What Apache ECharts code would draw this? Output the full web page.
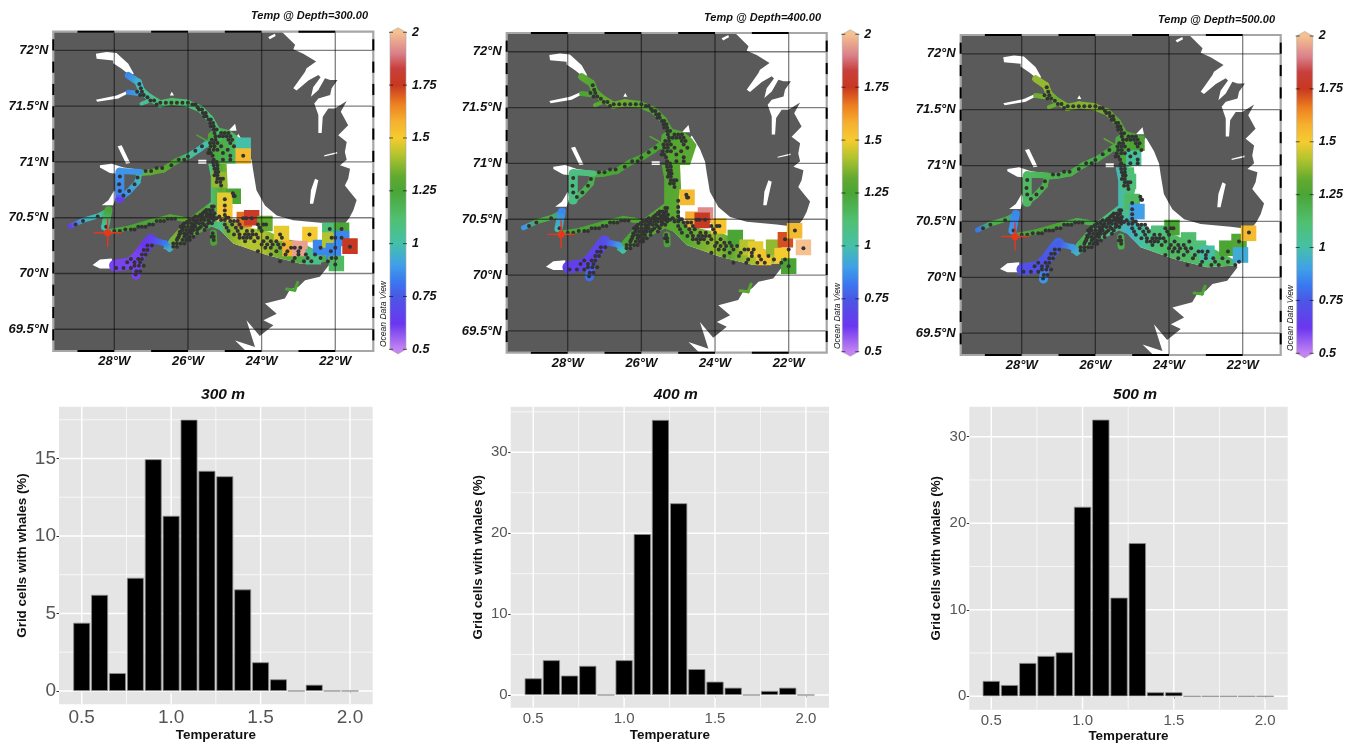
<!DOCTYPE html>
<html><head><meta charset="utf-8">
<script src="https://cdn.jsdelivr.net/npm/echarts@6/dist/echarts.min.js"></script>
<style>html,body{margin:0;padding:0;background:#fff}#c{width:1351px;height:744px}</style>
</head><body><div id="c"></div>
<script>
// ---------- histogram data ----------
const binCentres = [0.5,0.6,0.7,0.8,0.9,1.0,1.1,1.2,1.3,1.4,1.5,1.6,1.7,1.8,1.9,2.0];
const hist300 = [4.4,6.2,1.15,7.3,14.95,11.3,17.5,14.2,13.85,6.55,1.85,0.75,0,0.4,0,0];
const hist400 = [2.06,4.3,2.4,3.6,0,4.3,19.9,34.0,23.7,3.2,1.65,0.9,0,0.5,0.9,0];
const hist500 = [1.77,1.3,3.85,4.66,5.08,21.9,31.97,11.4,17.7,0.46,0.46,0,0,0,0,0];
const tempTicks = [0.5,1.0,1.5,2.0];
const tempMinor = [0.75,1.25,1.75];
const pctTicks300 = [0,5,10,15], pctMinor300 = [2.5,7.5,12.5,17.5];
const pctTicks400 = [0,10,20,30], pctMinor400 = [5,15,25,35];
const pctTicks500 = [0,10,20,30], pctMinor500 = [5,15,25];

// ---------- map axes ----------
const lonTicks = [-28,-26,-24,-22];
const latTicks = [69.5,70,70.5,71,71.5,72];
const topFrameSpans = [[-29,-28],[-27,-26],[-25,-24],[-23,-22]];
const sideFrameLats = [69.4,69.6,69.8,70,70.2,70.4,70.6,70.8,71,71.2,71.4,71.6,71.8,72];
const colourTicks = [0.5,0.75,1,1.25,1.5,1.75,2];
const tempStops = [[0.5,'#c384f2'],[0.62,'#6b36f0'],[0.75,'#4a58e4'],[0.82,'#3a78f0'],[0.9,'#3fa0e8'],[1.0,'#45c0a8'],[1.12,'#50c070'],[1.25,'#4aa535'],[1.32,'#62aa30'],[1.42,'#b4c42e'],[1.5,'#f5cc30'],[1.58,'#f5b030'],[1.66,'#ee8020'],[1.75,'#c83820'],[1.83,'#c8403c'],[1.9,'#d9808a'],[2.0,'#f5c191']];

// ---------- coast: open water outline (lon, lat) ----------
const seaOutline = [[-23.46,72.17],[-23.09,72.05],[-23.14,72.01],[-22.87,71.97],[-22.52,71.90],[-22.78,71.84],[-22.82,71.81],[-23.14,71.66],[-23.05,71.64],[-22.73,71.73],[-22.46,71.78],[-22.40,71.76],[-22.60,71.67],[-22.66,71.585],[-22.46,71.645],[-22.28,71.75],[-22.14,71.735],[-21.94,71.735],[-22.10,71.66],[-22.14,71.60],[-22.46,71.57],[-22.57,71.525],[-22.46,71.42],[-22.46,71.26],[-22.37,71.26],[-22.34,71.406],[-22.19,71.48],[-22.01,71.48],[-21.69,71.546],[-21.85,71.45],[-21.65,71.33],[-21.92,71.24],[-21.69,71.18],[-21.74,71.09],[-21.69,71.02],[-21.87,70.97],[-21.6,70.94],[-21.65,70.85],[-21.74,70.79],[-21.56,70.716],[-21.42,70.66],[-21.51,70.567],[-21.62,70.498],[-21.78,70.43],[-22.33,70.453],[-23.14,70.477],[-23.59,70.52],[-23.91,70.61],[-24.14,70.746],[-24.23,70.925],[-24.27,71.015],[-24.41,71.13],[-24.63,71.25],[-24.77,71.19],[-25.13,71.04],[-25.13,70.87],[-25.22,70.6],[-25.31,70.54],[-25.13,70.39],[-24.77,70.27],[-23.86,70.165],[-22.96,70.09],[-22.19,70.105],[-22.14,70.09],[-22.28,70.03],[-22.42,69.97],[-22.82,69.94],[-23.0,69.88],[-23.23,69.856],[-23.37,69.776],[-23.91,69.73],[-23.59,69.64],[-23.95,69.58],[-23.68,69.537],[-24.05,69.44],[-24.41,69.58],[-24.18,69.34],[-24.72,69.40],[-24.41,69.30],[-20.96,69.30],[-20.96,72.17]];
const inletA = [[-28.50,71.97],[-28.21,71.985],[-27.94,71.976],[-27.62,71.88],[-27.47,71.79],[-27.57,71.775],[-27.80,71.835],[-28.03,71.886],[-28.03,71.91],[-28.48,71.925]];
const inletB = [[-28.50,71.558],[-27.94,71.596],[-27.67,71.635],[-27.62,71.617],[-27.89,71.57],[-28.46,71.54]];
const inletC = [[-27.91,71.14],[-27.8,71.149],[-27.57,70.99],[-27.68,70.985]];
const inletD = [[-26.49,71.596],[-26.44,71.63],[-26.38,71.596]];
const inletE = [[-24.9,71.28],[-24.72,71.343],[-24.68,71.28]];
const inletF = [[-28.39,70.97],[-28.07,70.985],[-27.75,70.95],[-27.30,70.93],[-27.30,70.896],[-27.98,70.896],[-28.12,70.90],[-28.39,70.95]];
const inletG = [[-28.0,70.746],[-27.94,70.70],[-28.03,70.612],[-28.34,70.612],[-28.16,70.657]];
const inletH = [[-28.59,70.075],[-28.39,70.125],[-28.07,70.134],[-28.03,70.045],[-28.39,70.045]];
const inletI = [[-22.6,70.626],[-22.46,70.835],[-22.55,70.85],[-22.66,70.746],[-22.69,70.626]];
const inletJ = [[-25.72,71.02],[-25.5,71.02],[-25.5,70.985],[-25.72,70.985]];
const inletK = [[-23.82,72.12],[-23.64,72.15],[-23.62,72.13],[-23.78,72.10]];
const inletL = [[-22.3,71.06],[-21.95,71.09],[-21.95,71.075],[-22.3,71.05]];

// ---------- fjord centre lines ----------
const chNorth = [[-27.62,71.776],[-27.35,71.716],[-27.26,71.641],[-27.08,71.587],[-26.76,71.522],[-26.44,71.543],[-26.04,71.528],[-25.67,71.477],[-25.40,71.388],[-25.22,71.283],[-25.13,71.223]];
const chNorthBranch = [[-27.62,71.626],[-27.26,71.611]];
const chNorthTail = [[-27.26,71.522],[-27.03,71.552]];
const chMiddle = [[-25.49,71.164],[-25.67,71.119],[-25.95,71.059],[-26.31,71.008],[-26.67,70.931],[-27.03,70.908],[-27.32,70.90],[-27.37,70.821],[-27.62,70.731],[-27.89,70.663]];
const chCross = [[-27.80,70.92],[-27.30,70.91]];
const chUpright = [[-27.85,70.91],[-27.85,70.716],[-27.85,70.672]];
const chWest = [[-29.2,70.424],[-28.84,70.478],[-28.39,70.522],[-28.16,70.567]];
const chStem = [[-28.16,70.567],[-28.25,70.418]];
const chEast = [[-28.2,70.373],[-27.66,70.403],[-27.03,70.463],[-26.49,70.508],[-26.22,70.493],[-26.04,70.478]];
const chPurple = [[-27.98,70.07],[-27.57,70.09],[-27.35,70.15],[-27.12,70.254],[-27.0,70.3]];
const chPurpleFoot = [[-27.41,69.985],[-27.35,70.13]];
const chLink = [[-26.98,70.3],[-26.62,70.27],[-26.5,70.22]];
const chSouth = [[-23.32,69.86],[-23.1,69.85],[-23.02,69.92]];
const chStub = [[-25.31,70.36],[-25.3,70.28]];
const chStick = [[-25.76,71.24],[-25.49,71.19]];

// temperatures along each centre line, per depth
const tNorth300=[0.85,0.95,1.0,1.05,1.1,1.15,1.12,1.12,1.1,1.12,1.15], tNorth400=[1.3,1.28,1.28,1.3,1.33,1.33,1.3,1.28,1.27,1.27,1.25], tNorth500=[1.38,1.38,1.35,1.33,1.35,1.36,1.36,1.33,1.3,1.28,1.28];
const tNB300=[0.85,0.95], tNB400=[1.25,1.28], tNB500=[1.33,1.35];
const tNT300=[1.05,1.05], tNT400=[1.3,1.3], tNT500=[1.33,1.33];
const tMid300=[1.0,0.98,1.05,1.25,1.3,1.32,1.15,0.95,0.88,0.85], tMid400=[1.25,1.25,1.25,1.25,1.25,1.25,1.22,1.2,1.18,1.15], tMid500=[1.22,1.22,1.2,1.2,1.2,1.2,1.2,1.2,1.18,1.15];
const tCross300=[0.88,0.88], tCross400=[1.08,1.1], tCross500=[1.15,1.18];
const tUp300=[0.88,0.85,0.65], tUp400=[1.08,1.08,1.08], tUp500=[1.15,1.15,1.15];
const tWest300=[0.65,0.95,1.0,1.25], tWest400=[0.88,1.2,1.2,0.85], tWest500=[0.82,1.2,1.2,0.85];
const tStem300=[1.25,1.0], tStem400=[0.85,0.98], tStem500=[0.85,0.88];
const tEast300=[1.2,1.25,1.25,1.28,1.28,1.3], tEast400=[1.22,1.25,1.25,1.25,1.27,1.27], tEast500=[1.22,1.25,1.25,1.2,1.2,1.2];
const tPurple300=[0.6,0.6,0.6,0.62,0.65], tPurple400=[0.66,0.66,0.66,0.68,0.7], tPurple500=[0.72,0.72,0.74,0.76,0.78];
const tFoot300=[0.6,0.6], tFoot400=[0.8,0.66], tFoot500=[0.88,0.72];
const tLink300=[0.68,0.82,0.95], tLink400=[0.72,0.88,1.0], tLink500=[0.76,0.88,0.95];
const tSouth300=[1.25,1.25,1.25], tSouth400=[1.3,1.3,1.28], tSouth500=[1.25,1.25,1.25];
const tStub300=[1.25,1.25], tStub400=[1.25,1.25], tStub500=[1.2,1.2];
const tStick300=[1.25,1.25], tStick400=[1.3,1.3], tStick500=[1.3,1.3];

// ---------- water bodies: outline + temperature by longitude ----------
const bandOutline = [[-26.67,70.224],[-26.49,70.314],[-26.04,70.478],[-25.38,70.642],[-25.0,70.6],[-24.95,70.5],[-24.41,70.418],[-23.78,70.373],[-23.41,70.313],[-22.96,70.284],[-22.19,70.15],[-22.19,70.105],[-22.96,70.09],[-23.86,70.165],[-24.77,70.269],[-25.13,70.388],[-25.36,70.418],[-26.04,70.299],[-26.49,70.194]];
const hallNorth = [[-25.45,71.254],[-25.22,71.314],[-24.86,71.284],[-24.63,71.224],[-24.5,71.165],[-24.68,70.985],[-25.22,70.985],[-25.49,71.135]];
const hallNorth500 = [[-25.45,71.25],[-25.2,71.31],[-24.85,71.28],[-24.68,71.2],[-24.68,71.13],[-24.9,71.13],[-24.9,71.0],[-25.22,70.98],[-25.49,71.13]];
const hallColumn = [[-25.45,70.985],[-24.95,70.985],[-24.92,70.777],[-24.98,70.7],[-24.95,70.52],[-25.38,70.537],[-25.38,70.717],[-25.38,70.866]];
const band300 = [[-26.7,0.95],[-26.4,1.35],[-26.0,1.3],[-25.6,1.28],[-25.35,1.15],[-25.15,1.05],[-24.9,1.35],[-24.5,1.42],[-24.0,1.42],[-23.6,1.35],[-23.3,1.3],[-22.9,1.2],[-22.5,1.12],[-22.2,1.25]];
const band400 = [[-26.7,1.0],[-26.5,1.25],[-26.0,1.27],[-25.3,1.3],[-24.8,1.28],[-24.3,1.35],[-24.0,1.38],[-23.6,1.3],[-23.2,1.38],[-22.8,1.42],[-22.2,1.4]];
const band500 = [[-26.7,0.92],[-26.4,1.2],[-26.0,1.12],[-25.5,1.08],[-25.1,0.95],[-24.8,1.0],[-24.4,1.1],[-24.0,1.15],[-23.4,1.15],[-23.0,1.13],[-22.4,1.18],[-22.2,1.15]];
const north300 = [[-25.5,1.25],[-25.0,1.2],[-24.7,1.15],[-24.5,1.0]];
const north400 = [[-25.5,1.28],[-24.5,1.3]];
const north500 = [[-25.5,1.22],[-24.8,1.25]];
const column300 = [[-25.4,1.1],[-25.1,1.3],[-24.95,1.35]];
const column400 = [[-25.4,1.28],[-24.95,1.3]];
const column500 = [[-25.4,0.98],[-25.0,1.12]];

// ---------- coarse grid squares (lon, lat, temperature) ----------
const squares300 = [[-24.5,71.15,1.0],[-24.5,71.054,1.55],[-25.15,70.842,1.38],[-24.77,70.693,1.25],[-25.0,70.657,1.48],[-25.0,70.537,1.52],[-24.47,70.484,1.68],[-24.27,70.5,1.78],[-23.91,70.448,1.32],[-23.46,70.358,1.48],[-22.69,70.35,1.5],[-23.23,70.224,1.58],[-22.96,70.224,1.95],[-22.6,70.15,1.08],[-22.4,70.233,0.85],[-22.15,70.388,1.1],[-22.15,70.30,1.42],[-22.05,70.203,0.85],[-21.83,70.388,1.25],[-21.83,70.314,0.85],[-21.6,70.245,1.75],[-21.97,70.09,1.15]];
const squares400 = [[-24.76,70.696,1.55],[-24.6,70.5,1.58],[-24.26,70.537,1.92],[-24.35,70.49,1.76],[-23.9,70.44,1.52],[-23.45,70.337,1.25],[-23.13,70.248,1.42],[-22.9,70.233,1.48],[-22.68,70.158,1.52],[-22.41,70.248,1.38],[-22.18,70.173,1.5],[-22.09,70.316,1.72],[-21.84,70.397,1.55],[-22.0,70.08,1.25],[-21.6,70.248,2.0]];
const squares500 = [[-24.87,71.2,1.25],[-24.96,71.066,1.03],[-25.1,70.857,1.1],[-25.0,70.678,1.15],[-24.87,70.588,0.9],[-23.92,70.445,1.25],[-24.28,70.394,1.1],[-23.47,70.334,1.13],[-23.2,70.26,1.1],[-22.97,70.215,1.0],[-22.43,70.26,1.25],[-22.1,70.32,1.27],[-22.06,70.2,0.93],[-21.84,70.394,1.55]];

// ---------- whale positions: [lat, [lons]] ----------
const whaleRows = [
[71.70,[-27.32]],[71.66,[-27.28]],[71.63,[-27.25,-27.38]],[71.60,[-27.2,-27.3]],[71.58,[-27.1]],[71.55,[-27.02,-26.92]],
[71.53,[-26.75,-26.6,-26.45,-26.3,-26.15,-26.0]],[71.515,[-26.85,-25.88,-25.8]],[71.49,[-25.74]],[71.47,[-25.7,-25.62]],[71.44,[-25.6,-25.52]],[71.41,[-25.5,-25.56]],[71.38,[-25.44,-25.38]],[71.35,[-25.4,-25.32]],[71.32,[-25.38,-25.3]],[71.29,[-25.3,-25.22]],[71.26,[-25.28,-25.1,-25.0,-24.9]],
[71.23,[-25.25,-25.15,-25.05,-24.95,-24.85]],[71.2,[-25.35,-25.25,-24.9,-24.8]],[71.17,[-25.4,-25.3,-25.2,-24.85]],[71.14,[-25.38,-25.28,-25.1,-24.75]],[71.11,[-25.42,-25.3,-25.2,-24.92]],[71.08,[-25.45,-25.38,-25.05]],[71.055,[-24.5,-24.85,-25.33]],[71.02,[-25.05,-24.85,-25.3]],
[71.0,[-25.32,-25.22]],[70.97,[-25.3,-25.2]],[70.94,[-25.28,-25.2]],[70.91,[-25.25,-25.18]],[70.88,[-25.28,-25.2]],[70.85,[-25.2,-25.12,-25.05]],[70.82,[-25.22,-25.12]],[70.79,[-25.1]],
[70.72,[-24.78]],[70.695,[-24.76,-24.73]],[70.665,[-25.0]],[70.61,[-25.0]],[70.565,[-25.0]],[70.525,[-25.0]],[70.495,[-24.5,-24.42,-24.27]],
[71.14,[-25.62]],[71.1,[-25.8]],[71.05,[-26.0]],[71.02,[-26.1,-26.25]],[70.97,[-26.45]],[70.945,[-26.7,-26.85]],[70.92,[-27.0,-27.15]],[70.86,[-27.37]],[70.8,[-27.45]],[70.74,[-27.6]],[70.7,[-27.75]],
[70.87,[-27.85]],[70.8,[-27.87]],[70.74,[-27.85]],[70.47,[-28.85]],[70.44,[-29.05]],[70.51,[-28.45]],[70.42,[-28.22]],
[70.38,[-28.0,-27.85]],[70.395,[-27.7,-27.55,-27.45]],[70.42,[-27.35,-27.25,-27.15]],[70.44,[-27.05,-26.95]],[70.47,[-26.85,-26.75,-26.65]],[70.49,[-26.55,-26.45,-26.35]],
[70.05,[-27.95,-27.75,-27.55]],[70.07,[-27.45,-27.33,-27.2]],[70.1,[-27.65,-27.45,-27.3]],[70.13,[-27.55,-27.35,-27.25]],[70.17,[-27.25,-27.15]],[70.21,[-27.2,-27.1]],[70.25,[-27.1,-26.98]],[69.99,[-27.42]],[70.02,[-27.4,-27.3]],
[70.60,[-25.35,-25.3]],[70.57,[-25.5,-25.42,-25.33]],[70.555,[-25.55,-25.38]],[70.54,[-25.6,-25.5,-25.4,-25.28]],[70.525,[-25.66,-25.45,-25.34]],[70.51,[-25.8,-25.7,-25.6,-25.5,-25.4,-25.3,-25.15]],[70.495,[-25.86,-25.62,-25.36,-25.22]],[70.48,[-25.95,-25.85,-25.75,-25.65,-25.55,-25.45,-25.3,-25.1,-25.0]],[70.465,[-26.02,-25.78,-25.42]],[70.45,[-26.1,-26.0,-25.9,-25.8,-25.7,-25.6,-25.45,-25.35]],[70.435,[-26.14,-25.85,-25.55]],[70.42,[-26.2,-26.1,-26.0,-25.9,-25.8,-25.65,-25.5]],[70.405,[-26.16,-25.88,-25.7]],[70.39,[-26.15,-26.05,-25.95,-25.85,-25.75,-25.55]],[70.375,[-26.22,-25.93]],[70.36,[-26.2,-26.1,-26.0,-25.9,-25.75,-25.33]],[70.345,[-26.24,-26.05]],[70.33,[-26.25,-26.1,-25.95,-25.85,-25.3,-25.36]],[70.315,[-26.28,-26.0]],[70.30,[-26.3,-26.15,-26.05,-25.95,-25.3]],[70.27,[-26.4,-26.3,-26.2,-26.1]],[70.24,[-26.4,-26.3]],
[70.5,[-24.95,-24.9]],[70.47,[-24.85,-24.75,-24.65]],[70.44,[-25.0,-24.8,-24.6,-24.1,-23.95,-23.88]],[70.41,[-24.95,-24.7,-24.55,-24.05]],[70.38,[-24.9,-24.65,-24.4,-24.25,-24.0]],[70.35,[-24.75,-24.6,-24.45,-24.35,-24.25,-24.15,-23.5,-22.7]],[70.32,[-24.6,-24.5,-24.4,-24.3,-24.1,-23.85,-23.45]],[70.29,[-24.45,-24.2,-23.95,-23.75,-23.6]],[70.26,[-24.0,-23.85,-23.7,-23.55,-23.4]],[70.23,[-23.9,-23.75,-23.5,-23.2,-23.1,-22.95,-22.4,-22.0]],[70.2,[-24.1,-23.6,-23.3,-23.0,-22.12]],[70.17,[-23.75,-23.35,-23.0,-22.8,-22.55]],[70.14,[-23.1,-22.75,-22.4,-22.1,-21.98]],[70.11,[-23.5,-23.15,-22.85,-22.65,-22.2]],[70.08,[-22.0]],
[70.24,[-21.6]],[70.32,[-21.83,-22.1,-22.0]],[70.4,[-21.83,-22.15]]
];
// sightings not plotted on a given depth map (no temperature there)
const absent300 = [];
const absent400 = [[-24.5,71.055],[-22.7,70.35],[-21.83,70.32],[-23.5,70.35],[-23.45,70.32],[-22.15,70.4],[-22.4,70.23],[-22.0,70.32],[-22.12,70.2],[-21.98,70.14]];
const absent500 = [[-24.5,71.055],[-22.7,70.35],[-21.83,70.32],[-21.6,70.24],[-22.15,70.4],[-24.5,70.495],[-24.42,70.495],[-24.27,70.495],[-22.0,70.32],[-22.0,70.23],[-22.12,70.2],[-21.98,70.14],[-22.0,70.08],[-23.5,70.35]];
const crossSite = [-28.18,70.365];

// ---------- layout ----------
const LON=[-29.656,-20.968], LAT=[69.305,72.168], FONT='"Liberation Sans",Arial,sans-serif';
const panels = [
 {depth:'300.00', name:'300 m', bars:hist300, ticks:pctTicks300, minor:pctMinor300, yr:[-0.86,18.34], xr:[0.373,2.127], absent:absent300,
  map:[53.3,31.7,320,319.3], cb:[390,32.3,16,317], hist:[59,406.7,313.7,297.6], title:[246,5], odv:[379,347], hc:218, tickFont:19, xGap:25, yGap:30,
  shapes:[[bandOutline,band300],[hallNorth,north300],[hallColumn,column300]], squares:squares300,
  temps:[tNorth300,tNB300,tNT300,tMid300,tCross300,tUp300,tWest300,tStem300,tEast300,tPurple300,tFoot300,tLink300,tSouth300,tStub300,tStick300]},
 {depth:'400.00', name:'400 m', bars:hist400, ticks:pctTicks400, minor:pctMinor400, yr:[-1.57,35.64], xr:[0.376,2.127], absent:absent400,
  map:[506.7,33,320,319.7], cb:[842.3,34.3,16,317.4], hist:[510.7,406.7,318.3,301], title:[699,7], odv:[832.7,349], hc:670.7, tickFont:15, xGap:21, yGap:26,
  shapes:[[bandOutline,band400],[hallNorth,north400],[hallColumn,column400]], squares:squares400,
  temps:[tNorth400,tNB400,tNT400,tMid400,tCross400,tUp400,tWest400,tStem400,tEast400,tPurple400,tFoot400,tLink400,tSouth400,tStub400,tStick400]},
 {depth:'500.00', name:'500 m', bars:hist500, ticks:pctTicks500, minor:pctMinor500, yr:[-1.55,33.47], xr:[0.3795,2.124], absent:absent500,
  map:[960.7,35,320,320], cb:[1296.7,36,16,317.3], hist:[969.3,406.7,318.4,303], title:[1153,9], odv:[1286,351], hc:1130, tickFont:15, xGap:19, yGap:26,
  shapes:[[bandOutline,band500],[hallNorth500,north500],[hallColumn,column500]], squares:squares500,
  temps:[tNorth500,tNB500,tNT500,tMid500,tCross500,tUp500,tWest500,tStem500,tEast500,tPurple500,tFoot500,tLink500,tSouth500,tStub500,tStick500]}
];
const chPaths = [chNorth,chNorthBranch,chNorthTail,chMiddle,chCross,chUpright,chWest,chStem,chEast,chPurple,chPurpleFoot,chLink,chSouth,chStub,chStick];
const chWidths = [7,5,4,6,6,9,5,8,5,12,9,6,3,7,1.5];
const whiteShapes = [seaOutline,inletA,inletB,inletC,inletD,inletE,inletF,inletG,inletH,inletI,inletJ,inletK,inletL];
const whales = whaleRows.flatMap(r => r[1].map(lon => [lon, r[0]]));

function tempColor(t){
  const s = tempStops;
  if (t <= s[0][0]) return s[0][1];
  for (let i = 1; i < s.length; i++) if (t <= s[i][0]) {
    return echarts.color.lerp((t - s[i-1][0])/(s[i][0]-s[i-1][0]), [s[i-1][1], s[i][1]]);
  }
  return s[s.length-1][1];
}
function layer(g, items, draw, z, clip){
  return {type:'custom', coordinateSystem:'cartesian2d', xAxisIndex:g, yAxisIndex:g, z:z, silent:true,
    clip:clip!==false, animation:false, data:items.map(function(_,i){return [i,0];}),
    encode:{x:0,y:1},
    renderItem:function(params,api){return draw(items[params.dataIndex],api);}};
}
function poly(o,api){return o.map(function(p){return api.coord(p);});}

const grids=[],xAxes=[],yAxes=[],series=[],titles=[],graphics=[];
panels.forEach(function(P,pi){
  const gm=pi*3, gc=pi*3+1, gh=pi*3+2;
  // ---- map ----
  grids.push({outerBoundsMode:'none',left:P.map[0],top:P.map[1],width:P.map[2],height:P.map[3],show:true,backgroundColor:'#5a5a5a',borderWidth:0});
  const lblM={fontFamily:FONT,fontWeight:'bold',fontStyle:'italic',fontSize:13,color:'#111'};
  xAxes.push({type:'value',gridIndex:gm,min:LON[0],max:LON[1],axisLine:{show:false},splitLine:{show:false},axisTick:{show:false},
    axisLabel:Object.assign({customValues:lonTicks,margin:4,formatter:function(v){return (-v)+'°W';}},lblM)});
  yAxes.push({type:'value',gridIndex:gm,min:LAT[0],max:LAT[1],axisLine:{show:false},splitLine:{show:false},axisTick:{show:false},
    axisLabel:Object.assign({customValues:latTicks,margin:5,formatter:function(v){return v+'°N';}},lblM)});
  series.push(layer(gm,whiteShapes,function(o,api){return {type:'polygon',shape:{points:poly(o,api)},style:{fill:'#fff'}};},1));
  series.push(layer(gm,P.shapes,function(s,api){
    const st=s[1], a=api.coord([st[0][0],70])[0], b=api.coord([st[st.length-1][0],70])[0];
    const stops=st.map(function(q){return {offset:(api.coord([q[0],70])[0]-a)/(b-a),color:tempColor(q[1])};});
    return {type:'polygon',shape:{points:poly(s[0],api)},style:{fill:new echarts.graphic.LinearGradient(a,0,b,0,stops,true)}};
  },2));
  series.push(layer(gm,chPaths.map(function(p,i){return [p,P.temps[i],chWidths[i]];}),function(c,api){
    const pts=poly(c[0],api), kids=[];
    for(let i=0;i<pts.length-1;i++){
      kids.push({type:'polyline',shape:{points:[pts[i],pts[i+1]]},style:{fill:'none',lineWidth:c[2],lineCap:'round',
        stroke:new echarts.graphic.LinearGradient(pts[i][0],pts[i][1],pts[i+1][0],pts[i+1][1],[{offset:0,color:tempColor(c[1][i])},{offset:1,color:tempColor(c[1][i+1])}],true)}});
    }
    return {type:'group',children:kids};
  },3));
  series.push(layer(gm,P.squares,function(q,api){
    const a=api.coord([q[0]-0.21,q[1]+0.07]), b=api.coord([q[0]+0.21,q[1]-0.07]);
    return {type:'rect',shape:{x:a[0],y:a[1],width:b[0]-a[0],height:b[1]-a[1]},style:{fill:tempColor(q[2])}};
  },4));
  series.push(layer(gm,lonTicks.map(function(v){return [[v,LAT[0]],[v,LAT[1]]];}).concat(latTicks.map(function(v){return [[LON[0],v],[LON[1],v]];})),function(l,api){
    const a=api.coord(l[0]),b=api.coord(l[1]);
    return {type:'line',shape:{x1:a[0],y1:a[1],x2:b[0],y2:b[1]},style:{stroke:'rgba(0,0,0,0.5)',lineWidth:1.3}};
  },5));
  const shown=whales.filter(function(w){return !P.absent.some(function(a){return Math.abs(a[0]-w[0])<0.011&&Math.abs(a[1]-w[1])<0.011;});});
  series.push({type:'scatter',xAxisIndex:gm,yAxisIndex:gm,z:6,silent:true,animation:false,symbolSize:4,data:shown,itemStyle:{color:'#333',opacity:1}});
  series.push(layer(gm,[crossSite],function(c,api){
    const p=api.coord(c);
    return {type:'group',children:[
      {type:'line',shape:{x1:p[0]-14,y1:p[1],x2:p[0]+14,y2:p[1]},style:{stroke:'#e8361c',lineWidth:1.4}},
      {type:'line',shape:{x1:p[0],y1:p[1]-14,x2:p[0],y2:p[1]+14},style:{stroke:'#e8361c',lineWidth:1.4}},
      {type:'circle',shape:{cx:p[0],cy:p[1],r:3.6},style:{fill:'#e8361c'}}]};
  },7));
  // frame
  series.push(layer(gm,[0],function(_,api){
    const tl=api.coord([LON[0],LAT[1]]), br=api.coord([LON[1],LAT[0]]), kids=[
      {type:'rect',shape:{x:tl[0],y:tl[1],width:br[0]-tl[0],height:br[1]-tl[1]},style:{fill:'none',stroke:'#a6a6a6',lineWidth:2.2}}];
    topFrameSpans.forEach(function(s){
      const a=api.coord([s[0],70])[0], b=api.coord([s[1],70])[0];
      [tl[1],br[1]].forEach(function(y){kids.push({type:'line',shape:{x1:a,y1:y,x2:b,y2:y},style:{stroke:'#000',lineWidth:2}});});
    });
    sideFrameLats.forEach(function(v){
      const a=api.coord([-25,v])[1], b=api.coord([-25,v+0.1])[1];
      [tl[0],br[0]].forEach(function(x){kids.push({type:'line',shape:{x1:x,y1:a,x2:x,y2:b},style:{stroke:'#000',lineWidth:2}});});
    });
    return {type:'group',children:kids};
  },8,false));
  titles.push({text:'Temp @ Depth='+P.depth,left:P.title[0],top:P.title[1],textStyle:{fontFamily:FONT,fontWeight:'bold',fontStyle:'italic',fontSize:11,color:'#111'}});
  graphics.push({type:'text',x:P.odv[0],y:P.odv[1],rotation:Math.PI/2,style:{text:'Ocean Data View',font:'italic 8.5px '+FONT,fill:'#222',textAlign:'left',textBaseline:'middle'},z:20});

  // ---- colour bar ----
  grids.push({outerBoundsMode:'none',left:P.cb[0],top:P.cb[1],width:P.cb[2],height:P.cb[3]});
  xAxes.push({type:'value',gridIndex:gc,min:0,max:1,show:false});
  yAxes.push({type:'value',gridIndex:gc,position:'right',min:0.5,max:2,interval:0.25,axisLine:{show:false},axisTick:{show:false},splitLine:{show:false},
    axisLabel:{margin:6,fontFamily:FONT,fontWeight:'bold',fontStyle:'italic',fontSize:12.5,color:'#111',formatter:function(v){return String(v);}}});
  series.push(layer(gc,[tempStops],function(st,api){
    const a=api.coord([0,2]), b=api.coord([1,0.5]), m=(a[0]+b[0])/2, tip=4.6;
    const kids=[{type:'polygon',shape:{points:[[a[0],a[1]],[m,a[1]-tip],[b[0],a[1]],[b[0],b[1]],[m,b[1]+tip],[a[0],b[1]]]},
      style:{stroke:'#aaa',lineWidth:0.6,fill:new echarts.graphic.LinearGradient(0,a[1],0,b[1],st.map(function(q){return {offset:(api.coord([0,q[0]])[1]-a[1])/(b[1]-a[1]),color:q[1]};}).reverse(),true)}}];
    colourTicks.forEach(function(t){
      const y=api.coord([0,t])[1];
      kids.push({type:'line',shape:{x1:a[0]-1,y1:y,x2:a[0]+3,y2:y},style:{stroke:'rgba(0,0,0,0.6)',lineWidth:1}});
      kids.push({type:'line',shape:{x1:b[0]-3,y1:y,x2:b[0]+1,y2:y},style:{stroke:'rgba(0,0,0,0.6)',lineWidth:1}});
    });
    return {type:'group',children:kids};
  },1,false));

  // ---- histogram ----
  grids.push({outerBoundsMode:'none',left:P.hist[0],top:P.hist[1],width:P.hist[2],height:P.hist[3],show:true,backgroundColor:'#e5e5e5',borderWidth:0});
  const lblH={fontFamily:FONT,fontSize:P.tickFont,color:'#555'};
  const nameS={fontFamily:FONT,fontWeight:'bold',fontSize:13.4,color:'#111'};
  xAxes.push({type:'value',gridIndex:gh,min:P.xr[0],max:P.xr[1],name:'Temperature',nameLocation:'middle',nameGap:P.xGap,nameTextStyle:nameS,
    axisLine:{show:false},splitLine:{show:false},axisTick:{show:true,length:2.5,customValues:tempTicks,lineStyle:{color:'#333'}},
    axisLabel:Object.assign({customValues:tempTicks,margin:4,formatter:function(v){return v.toFixed(1);}},lblH)});
  yAxes.push({type:'value',gridIndex:gh,min:P.yr[0],max:P.yr[1],name:'Grid cells with whales (%)',nameLocation:'middle',nameGap:P.yGap,nameRotate:90,nameTextStyle:nameS,
    axisLine:{show:false},splitLine:{show:false},axisTick:{show:true,length:2.5,customValues:P.ticks,lineStyle:{color:'#333'}},
    axisLabel:Object.assign({customValues:P.ticks,margin:3,formatter:function(v){return String(v);}},lblH)});
  const lines=[];
  tempTicks.forEach(function(v){lines.push([[v,P.yr[0]],[v,P.yr[1]],1.4]);});
  tempMinor.forEach(function(v){lines.push([[v,P.yr[0]],[v,P.yr[1]],0.7]);});
  P.ticks.forEach(function(v){lines.push([[P.xr[0],v],[P.xr[1],v],1.4]);});
  P.minor.forEach(function(v){lines.push([[P.xr[0],v],[P.xr[1],v],0.7]);});
  series.push(layer(gh,lines,function(l,api){
    const a=api.coord(l[0]),b=api.coord(l[1]);
    return {type:'line',shape:{x1:a[0],y1:a[1],x2:b[0],y2:b[1]},style:{stroke:'#fff',lineWidth:l[2]}};
  },1));
  series.push({type:'bar',xAxisIndex:gh,yAxisIndex:gh,z:2,silent:true,animation:false,
    barWidth:P.hist[2]/(P.xr[1]-P.xr[0])*0.1-1,
    data:binCentres.map(function(c,i){return [c,P.bars[i]];}),
    itemStyle:{color:'#000',borderColor:'#8c8c8c',borderWidth:0.8}});
  titles.push({text:P.name,left:P.hc,top:382,textAlign:'center',textStyle:{fontFamily:FONT,fontWeight:'bold',fontStyle:'italic',fontSize:15.5,color:'#111'}});
});

const chart=echarts.init(document.getElementById('c'),null,{renderer:'canvas'});
chart.setOption({animation:false,backgroundColor:'#fff',title:titles,grid:grids,xAxis:xAxes,yAxis:yAxes,series:series,graphic:graphics});
</script></body></html>
